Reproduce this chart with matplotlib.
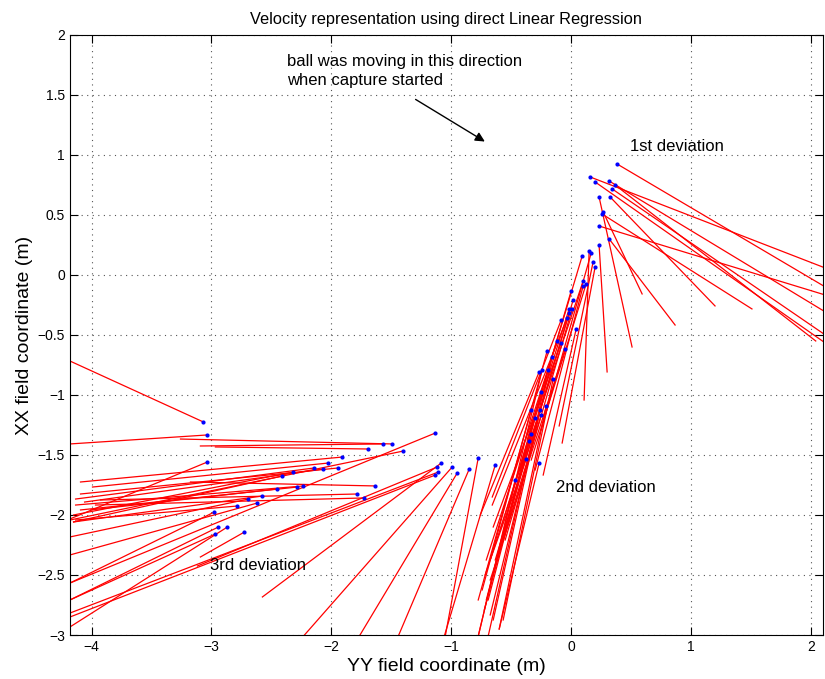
import matplotlib
matplotlib.use('Agg')
import matplotlib.pyplot as plt
import numpy as np

plt.rcParams['font.family'] = ['Liberation Sans', 'DejaVu Sans']

# start point (blue dot) and end point of each regression line, in metres
# first deviation
dev1_x0 = [0.383, 0.158, 0.317, 0.200, 0.367, 0.342, 0.233, 0.233, 0.267, 0.258, 0.325, 0.317, 0.233]
dev1_y0 = [0.925, 0.817, 0.783, 0.775, 0.750, 0.717, 0.408, 0.650, 0.525, 0.508, 0.650, 0.300, 0.250]
dev1_x1 = [2.12, 2.12, 2.12, 2.12, 2.04, 2.12, 2.12, 0.508, 0.592, 1.508, 1.200, 0.867, 0.300]
dev1_y1 = [-0.100, 0.058, -0.308, -0.567, -0.550, -0.500, -0.167, -0.600, -0.158, -0.283, -0.258, -0.417, -0.808]

# second deviation
dev2_x0 = [0.092, 0.150, 0.167, 0.183, 0.200, 0.100, 0.125, 0.100, 0.000, 0.017, -0.017, 0.008,
           -0.017, -0.033, -0.083, 0.042, -0.117, -0.083, -0.200, -0.050, -0.158, -0.267, -0.242,
           -0.192, -0.150, -0.250, -0.208, -0.333, -0.258, -0.250, -0.300, -0.333, -0.350, -0.375,
           -0.267, -0.467, -0.633]
dev2_y0 = [0.158, 0.200, 0.183, 0.108, 0.067, -0.050, -0.075, -0.092, -0.133, -0.208, -0.283, -0.283,
           -0.317, -0.358, -0.375, -0.450, -0.550, -0.567, -0.633, -0.617, -0.683, -0.808, -0.792,
           -0.792, -0.867, -0.975, -1.092, -1.125, -1.125, -1.167, -1.192, -1.325, -1.383, -1.533,
           -1.567, -1.708, -1.583]
dev2_x1 = [-0.367, 0.108, -0.250, -0.100, -0.075, -0.425, -0.333, -0.300, -0.508, -0.467, -0.592, -0.550,
           -0.633, -0.658, -0.658, -0.233, -0.708, -0.650, -0.742, -0.675, -0.650, -0.758, -0.775,
           -0.692, -0.567, -0.708, -0.600, -0.775, -0.675, -0.642, -0.725, -0.692, -0.717, -0.675,
           -0.600, -0.775, -1.058]
dev2_y1 = [-1.375, -1.042, -1.292, -1.258, -1.400, -1.625, -1.542, -1.625, -1.875, -1.833, -2.125, -2.208,
           -2.375, -1.917, -1.850, -1.667, -2.375, -2.100, -2.625, -2.542, -2.875, -2.000, -3.010,
           -3.010, -2.875, -2.708, -2.950, -2.708, -2.833, -2.458, -2.792, -2.708, -2.500, -2.375,
           -2.950, -3.010, -3.010]

# third deviation
dev3_x0 = [-3.067, -3.033, -1.492, -1.567, -1.692, -1.133, -1.400, -3.033, -1.633, -1.908, -2.025,
           -1.942, -2.142, -2.067, -2.317, -2.408, -2.233, -2.283, -2.450, -1.783, -1.725, -2.575,
           -2.783, -2.975, -2.617, -2.692, -1.083, -1.117, -1.108, -1.133, -2.725, -2.942, -2.967,
           -2.867, -0.992, -0.950, -0.850, -0.775]
dev3_y0 = [-1.225, -1.333, -1.408, -1.408, -1.450, -1.317, -1.467, -1.558, -1.758, -1.517, -1.567,
           -1.608, -1.608, -1.617, -1.642, -1.675, -1.758, -1.767, -1.783, -1.825, -1.858, -1.842,
           -1.925, -1.975, -1.900, -1.867, -1.567, -1.600, -1.642, -1.667, -2.142, -2.100, -2.158,
           -2.100, -1.600, -1.650, -1.617, -1.525]
dev3_x1 = [-4.18, -4.18, -3.258, -3.092, -2.967, -4.18, -4.18, -4.18, -3.175, -4.092, -3.992,
           -4.092, -4.133, -4.058, -4.150, -4.150, -4.133, -4.092, -4.008, -3.925, -3.967, -4.150,
           -4.133, -4.18, -4.18, -4.18, -2.575, -3.117, -4.18, -4.18, -3.092, -4.18, -4.18,
           -4.18, -2.233, -1.767, -1.442, -1.050]
dev3_y1 = [-0.717, -1.408, -1.367, -1.425, -1.433, -2.567, -2.042, -2.033, -1.725, -1.725, -1.767,
           -1.825, -1.867, -1.892, -2.000, -2.058, -1.917, -1.958, -1.958, -1.875, -1.917, -2.058,
           -2.042, -2.567, -2.333, -2.183, -2.683, -2.425, -2.817, -2.850, -2.350, -2.708, -2.708,
           -2.933, -3.010, -3.010, -3.010, -3.010]

x0 = dev1_x0 + dev2_x0 + dev3_x0
y0 = dev1_y0 + dev2_y0 + dev3_y0
x1 = dev1_x1 + dev2_x1 + dev3_x1
y1 = dev1_y1 + dev2_y1 + dev3_y1

fig = plt.figure(figsize=(8.25, 6.79), dpi=100)
ax = fig.add_axes([0.0848, 0.0648, 0.9127, 0.8837])

for a, b, c, d in zip(x0, y0, x1, y1):
    ax.plot([a, c], [b, d], color='red', lw=0.9)
ax.plot(x0, y0, '.', color='blue', ms=4)

ax.set_xlim(-4.18, 2.1)
ax.set_ylim(-3, 2)
ax.set_xticks(np.arange(-4, 3, 1))
ax.set_yticks(np.arange(-3, 2.5, 0.5))
ax.set_yticklabels(['\u22123', '\u22122.5', '\u22122', '\u22121.5', '\u22121', '\u22120.5',
                    '0', '0.5', '1', '1.5', '2'])
ax.set_xticklabels(['\u22124', '\u22123', '\u22122', '\u22121', '0', '1', '2'])
ax.grid(True, linestyle=(0, (1, 4)), color='#555555', lw=0.8)
ax.tick_params(direction='in', top=True, right=True, length=6, labelsize=10)
for s in ax.spines.values():
    s.set_linewidth(0.8)

ax.set_title('Velocity representation using direct Linear Regression', fontsize=11.8, pad=8)
ax.set_xlabel('YY field coordinate (m)', fontsize=14, labelpad=3)
ax.set_ylabel('XX field coordinate (m)', fontsize=14, labelpad=3)

ax.text(-2.367, 1.84, 'ball was moving in this direction\nwhen capture started',
        fontsize=12, va='top', ha='left', linespacing=1.3)
ax.annotate('', xy=(-0.70, 1.10), xytext=(-1.317, 1.475),
            arrowprops=dict(arrowstyle='-|>', color='black', lw=1.0, mutation_scale=14))
ax.text(0.49, 1.067, '1st deviation', fontsize=12, va='center')
ax.text(-0.125, -1.775, '2nd deviation', fontsize=12, va='center')
ax.text(-3.008, -2.425, '3rd deviation', fontsize=12, va='center')

fig.savefig('out.png', dpi=100)
